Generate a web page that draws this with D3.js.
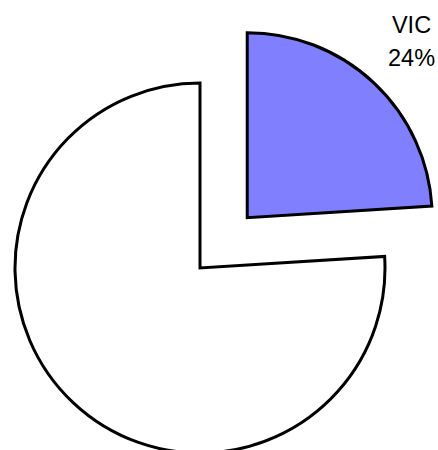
<!DOCTYPE html>
<html>
<head>
<meta charset="utf-8">
<script src="https://cdn.jsdelivr.net/npm/d3@7"></script>
<style>
  html, body { margin: 0; padding: 0; background: #fff; }
  svg { display: block; }
</style>
</head>
<body>
<svg id="chart" width="438" height="450"></svg>
<script>
// slice data
const categories = ["VIC", "Other"];
const values = [24, 76];
const showLabel = [true, false];
const fills = ["#8080ff", "#ffffff"];
const exploded = [true, false];

const W = 438, H = 450;
const cx = 200, cy = 268;
const R = 185;
const EXPLODE = 69;
const LABEL_R = 240;

const svg = d3.select("#chart");
const g = svg.append("g").attr("transform", `translate(${cx},${cy})`);

const total = d3.sum(values);
const pie = d3.pie().sort(null).value((d) => d.value);
const arcs = pie(categories.map((c, i) => ({ name: c, value: values[i], i })));

const arc = d3.arc().innerRadius(0).outerRadius(R);

const offset = (d) => {
  if (!exploded[d.data.i]) return [0, 0];
  const mid = (d.startAngle + d.endAngle) / 2;
  return [Math.sin(mid) * EXPLODE, -Math.cos(mid) * EXPLODE];
};

const slice = g.selectAll("g.slice")
  .data(arcs)
  .join("g")
  .attr("class", "slice")
  .attr("transform", (d) => `translate(${offset(d)})`);

slice.append("path")
  .attr("d", arc)
  .attr("fill", (d) => fills[d.data.i])
  .attr("stroke", "#000")
  .attr("stroke-width", 3)
  .attr("stroke-linejoin", "miter");

// labels
const labelArc = d3.arc().innerRadius(LABEL_R).outerRadius(LABEL_R);
slice.filter((d) => showLabel[d.data.i])
  .append("text")
  .attr("transform", (d) => {
    const [x, y] = labelArc.centroid(d);
    return `translate(${x},${y})`;
  })
  .attr("text-anchor", "middle")
  .attr("font-family", "Liberation Sans, Arial, sans-serif")
  .attr("font-size", 23.5)
  .attr("fill", "#000")
  .each(function(d) {
    const el = d3.select(this);
    el.append("tspan").attr("x", 0).attr("dy", -10).text(d.data.name);
    el.append("tspan").attr("x", 0).attr("dy", 33)
      .text(Math.round(d.data.value / total * 100) + "%");
  });
</script>
</body>
</html>
